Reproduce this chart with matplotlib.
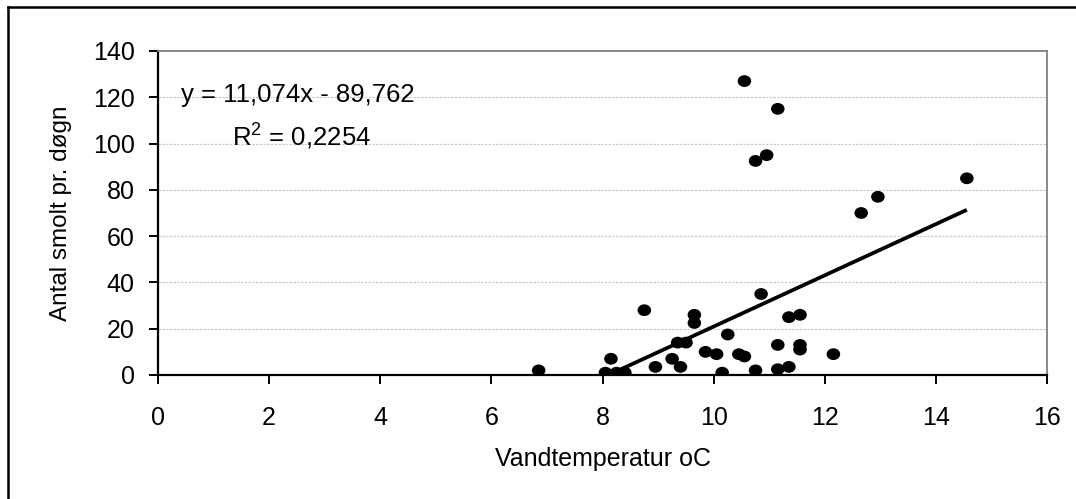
import matplotlib.pyplot as plt
from matplotlib.lines import Line2D
from matplotlib.markers import MarkerStyle
from matplotlib.transforms import Affine2D

plt.rcParams['font.family'] = ['Liberation Sans', 'DejaVu Sans']
plt.rcParams['mathtext.fontset'] = 'custom'
plt.rcParams['mathtext.rm'] = 'Liberation Sans'

# Water temperature (oC) and number of smolt per day
temp = [6.85, 8.05, 8.15, 8.25, 8.4, 8.75, 8.95, 9.25, 9.35, 9.4, 9.5,
        9.65, 9.65, 9.85, 10.05, 10.15, 10.25, 10.45, 10.55, 10.55, 10.75,
        10.75, 10.85, 10.95, 11.15, 11.15, 11.15, 11.35, 11.35, 11.55,
        11.55, 11.55, 12.15, 12.65, 12.95, 14.55]
smolt = [2, 1, 7, 1, 1, 28, 3.5, 7, 14, 3.5, 14,
         26, 22.5, 10, 9, 1, 17.5, 9, 8, 127, 2,
         92.5, 35, 95, 13, 2.5, 115, 25, 3.5, 26,
         13, 11, 9, 70, 77, 85]

# linear trendline
slope = 11.074
intercept = -89.762
r2 = 0.2254

x_ticks = [0, 2, 4, 6, 8, 10, 12, 14, 16]
y_ticks = [0, 20, 40, 60, 80, 100, 120, 140]

fig = plt.figure(figsize=(10.76, 4.99), dpi=100)
ax = fig.add_axes([0.1466, 0.2485, 0.8269, 0.6493])

# light dotted gridlines
for yv in y_ticks[1:-1]:
    ax.axhline(yv, color='#cccccc', lw=0.9, ls=(0, (2, 1)), zorder=0)

x0, x1 = min(temp), max(temp)
ax.plot([x0, x1], [slope * x0 + intercept, slope * x1 + intercept],
        color='black', lw=2.7, solid_capstyle='butt', zorder=2)

marker = MarkerStyle('o', transform=Affine2D().scale(1.15, 1.0))
ax.scatter(temp, smolt, marker=marker, s=72, color='black',
           edgecolors='none', zorder=3)

ax.set_xlim(0, 16)
ax.set_ylim(0, 140)
ax.set_xticks(x_ticks)
ax.set_yticks(y_ticks)
ax.tick_params(axis='both', direction='out', length=6.5, width=1.4,
               labelsize=18)
ax.tick_params(axis='y', pad=10)
ax.tick_params(axis='x', pad=16)

for side in ['left', 'bottom']:
    ax.spines[side].set_linewidth(1.6)
    ax.spines[side].set_color('black')
for side in ['top', 'right']:
    ax.spines[side].set_linewidth(1.3)
    ax.spines[side].set_color('#808080')

ax.set_xlabel('Vandtemperatur oC', fontsize=18, labelpad=12)
ax.set_ylabel('Antal smolt pr. døgn', fontsize=17.5, labelpad=15)

# trendline equation, two lines
eq = f'y = {slope:.3f}x - {abs(intercept):.3f}'.replace('.', ',')
rr = f'R$^2$ = {r2:.4f}'.replace('.', ',')
ax.text(0.157, 0.842, eq, transform=ax.transAxes, ha='center',
        va='baseline', fontsize=18.5, zorder=4)
ax.text(0.162, 0.710, rr, transform=ax.transAxes, ha='center',
        va='baseline', fontsize=18.5, zorder=4)

# outer chart frame (left and top edges)
fig.add_artist(Line2D([8 / 1076, 8 / 1076], [0, 1 - 7 / 499],
                      color='black', lw=1.8, transform=fig.transFigure))
fig.add_artist(Line2D([8 / 1076, 1], [1 - 7 / 499, 1 - 7 / 499],
                      color='black', lw=1.8, transform=fig.transFigure))

fig.savefig('out.png', dpi=100, facecolor='white')
